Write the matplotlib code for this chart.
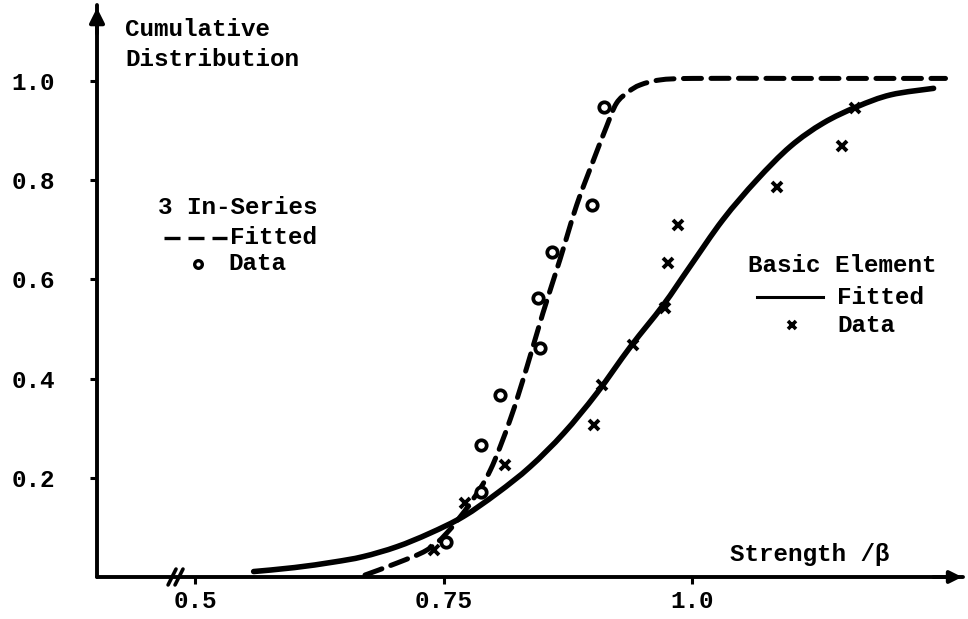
import matplotlib
matplotlib.use("Agg")
import matplotlib.pyplot as plt
from matplotlib.lines import Line2D
from matplotlib.path import Path
from matplotlib.patches import PathPatch

# ---------------- data ----------------
in_series_fit_x = [0.671, 0.703, 0.733, 0.753, 0.777, 0.797, 0.817, 0.834, 0.850, 0.867,
                   0.884, 0.901, 0.914, 0.924, 0.936, 0.948, 0.968, 1.000, 1.100, 1.200, 1.255]
in_series_fit_y = [0.004, 0.028, 0.054, 0.088, 0.149, 0.215, 0.317, 0.424, 0.532, 0.639,
                   0.750, 0.841, 0.908, 0.955, 0.978, 0.992, 1.002, 1.005, 1.005, 1.005, 1.005]

basic_fit_x = [0.559, 0.600, 0.639, 0.669, 0.703, 0.736, 0.770, 0.804, 0.837, 0.871, 0.904,
               0.938, 0.971, 0.998, 1.031, 1.065, 1.099, 1.132, 1.166, 1.200, 1.243]
basic_fit_y = [0.011, 0.019, 0.030, 0.041, 0.061, 0.088, 0.122, 0.169, 0.222, 0.290, 0.370,
               0.464, 0.548, 0.626, 0.720, 0.800, 0.868, 0.915, 0.948, 0.972, 0.985]

in_series_data_x = [0.752, 0.788, 0.788, 0.807, 0.847, 0.845, 0.859, 0.899, 0.911]
in_series_data_y = [0.071, 0.172, 0.266, 0.367, 0.461, 0.562, 0.656, 0.749, 0.948]

basic_data_x = [0.740, 0.772, 0.812, 0.901, 0.909, 0.941, 0.973, 0.976, 0.986, 1.085, 1.151, 1.164]
basic_data_y = [0.054, 0.149, 0.226, 0.306, 0.387, 0.468, 0.542, 0.632, 0.710, 0.787, 0.869, 0.945]

x_ticks = [0.5, 0.75, 1.0]
x_tick_labels = ["0.5", "0.75", "1.0"]
y_ticks = [0.2, 0.4, 0.6, 0.8, 1.0]
y_tick_labels = ["0.2", "0.4", "0.6", "0.8", "1.0"]

# ---------------- figure ----------------
W, H = 968, 619
FONT = dict(family=["Liberation Mono", "DejaVu Sans Mono"], weight="bold")
FS = 17.5

fig = plt.figure(figsize=(W / 100, H / 100), dpi=100)
fig.patch.set_facecolor("white")


def fx(px):
    return px / W


def fy(py):
    return 1 - py / H


def smooth_path(xs, ys):
    """Catmull-Rom through the read points, rendered as cubic Bezier segments."""
    verts = [(xs[0], ys[0])]
    codes = [Path.MOVETO]
    n = len(xs)
    for i in range(n - 1):
        x0, y0 = (xs[i - 1], ys[i - 1]) if i > 0 else (xs[i], ys[i])
        x1, y1 = xs[i], ys[i]
        x2, y2 = xs[i + 1], ys[i + 1]
        x3, y3 = (xs[i + 2], ys[i + 2]) if i + 2 < n else (x2, y2)
        c1 = (x1 + (x2 - x0) / 6, y1 + (y2 - y0) / 6)
        c2 = (x2 - (x3 - x1) / 6, y2 - (y3 - y1) / 6)
        verts += [c1, c2, (x2, y2)]
        codes += [Path.CURVE4] * 3
    return Path(verts, codes)


ax_l, ax_r, ax_b, ax_t = 97, 963, 577, 5
ax = fig.add_axes([fx(ax_l), fy(ax_b), fx(ax_r) - fx(ax_l), fy(ax_t) - fy(ax_b)])
ax.set_xlim(0.4014, 1.2726)
ax.set_ylim(0, 1.153)

for s in ["top", "right"]:
    ax.spines[s].set_visible(False)
for s in ["left", "bottom"]:
    ax.spines[s].set_linewidth(2.8)
    ax.spines[s].set_capstyle("round")

ax.set_xticks(x_ticks)
ax.set_xticklabels(x_tick_labels, fontsize=FS, **FONT)
ax.set_yticks(y_ticks)
ax.set_yticklabels(y_tick_labels, fontsize=FS, **FONT)
ax.tick_params(axis="y", direction="out", length=5, width=2.2, pad=25)
ax.tick_params(axis="x", direction="out", length=5, width=2.2, pad=4)

# curves (smooth)
dashed = PathPatch(smooth_path(in_series_fit_x, in_series_fit_y), facecolor="none",
                   edgecolor="black", lw=3.6, linestyle=(0, (3.6, 1.9)), capstyle="round")
ax.add_patch(dashed)
solid = PathPatch(smooth_path(basic_fit_x, basic_fit_y), facecolor="none",
                  edgecolor="black", lw=4.0, capstyle="round")
ax.add_patch(solid)

# data points
ax.plot(in_series_data_x, in_series_data_y, linestyle="none", marker="o",
        markersize=7.5, markerfacecolor="white", markeredgecolor="black", markeredgewidth=2.7)
ax.plot(basic_data_x, basic_data_y, linestyle="none", marker="x",
        markersize=7, color="black", markeredgewidth=2.8)

# axis arrows
ax.annotate("", xy=(0.4014, 1.153), xytext=(0.4014, 1.09),
            arrowprops=dict(arrowstyle="-|>", lw=2.8, color="black", mutation_scale=22),
            annotation_clip=False)
ax.annotate("", xy=(1.2745, 0), xytext=(1.24, 0),
            arrowprops=dict(arrowstyle="-|>", lw=2.8, color="black", mutation_scale=18),
            annotation_clip=False)

# axis break marks "//"
for x0 in (0.4729, 0.4799):
    ax.plot([x0, x0 + 0.008], [-0.016, 0.016], color="black", lw=2.6,
            solid_capstyle="round", clip_on=False)

# ---------------- texts ----------------
fig.text(fx(125), fy(30), "Cumulative", fontsize=FS, va="center", ha="left", **FONT)
fig.text(fx(125), fy(60), "Distribution", fontsize=FS, va="center", ha="left", **FONT)
fig.text(fx(730), fy(555), "Strength /\u03b2", fontsize=FS, va="center", ha="left", **FONT)

# left legend (3 In-Series)
fig.text(fx(158), fy(208), "3 In-Series", fontsize=FS, va="center", ha="left", **FONT)
fig.add_artist(Line2D([fx(164), fx(227)], [fy(238), fy(238)], color="black", lw=2.4,
                      dashes=(4.8, 2.4), transform=fig.transFigure))
fig.text(fx(230), fy(238), "Fitted", fontsize=FS, va="center", ha="left", **FONT)
fig.add_artist(Line2D([fx(198)], [fy(264)], marker="o", markersize=5.5, markerfacecolor="white",
                      markeredgecolor="black", markeredgewidth=2.4, transform=fig.transFigure))
fig.text(fx(228), fy(264), "Data", fontsize=FS, va="center", ha="left", **FONT)

# right legend (Basic Element)
fig.text(fx(748), fy(266), "Basic Element", fontsize=FS, va="center", ha="left", **FONT)
fig.add_artist(Line2D([fx(757), fx(823)], [fy(297), fy(297)], color="black", lw=2.2,
                      transform=fig.transFigure))
fig.text(fx(837), fy(297), "Fitted", fontsize=FS, va="center", ha="left", **FONT)
fig.add_artist(Line2D([fx(792)], [fy(325)], marker="x", markersize=6, color="black",
                      markeredgewidth=2.6, transform=fig.transFigure))
fig.text(fx(837), fy(325), "Data", fontsize=FS, va="center", ha="left", **FONT)

fig.savefig("out.png", dpi=100, facecolor="white")
